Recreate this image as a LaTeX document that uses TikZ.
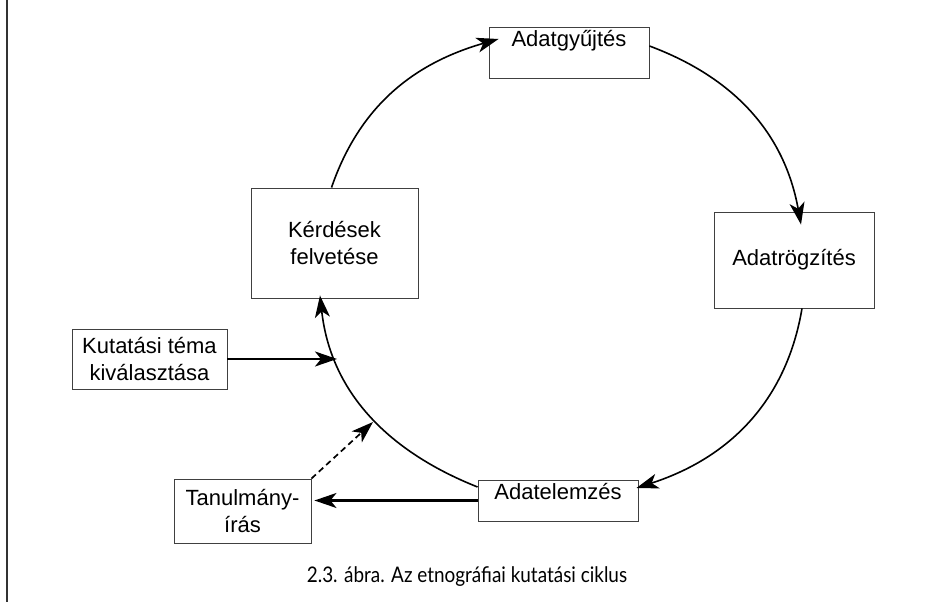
\documentclass[tikz,border=0pt]{standalone}
\usepackage{fontspec}
\setmainfont{Liberation Sans}
\newfontfamily\capfont[FakeStretch=0.88]{Lato}
\usetikzlibrary{arrows.meta}
\begin{document}
\begin{tikzpicture}[x=1pt,y=1pt,
  box/.style={draw=black!75, line width=0.9pt, inner sep=0pt, align=center,
    font=\fontsize{22}{27}\selectfont},
  tip/.style={-{Stealth[length=22pt,width=15pt,inset=6pt]}},
  cyc/.style={tip, line width=1.6pt},
  straightarrow/.style={tip, line width=2.2pt},
  dasharrow/.style={tip, line width=1.7pt, dash pattern=on 6pt off 4pt}]
\useasboundingbox (0,0) rectangle (935,602);
\draw[line width=1.5pt, black!80] (7,0) -- (7,602);

\node[box, minimum width=160pt, text height=20pt, text depth=31pt] (gy) at (569,549.5) {Adatgyűjtés};
\node[box, minimum width=167pt, minimum height=110pt] (kf) at (334.5,359) {Kérdések\\felvetése};
\node[box, minimum width=160pt, minimum height=96pt] (ar) at (794,342) {Adatrögzítés};
\node[box, minimum width=155pt, minimum height=60pt] (ku) at (149.5,243) {Kutatási téma\\kiválasztása};
\node[box, minimum width=137pt, minimum height=64pt] (ta) at (242.5,91) {Tanulmány-\\írás};
\node[box, minimum width=160pt, text height=20pt, text depth=21pt] (el) at (558,101.5) {Adatelemzés};

\node (cap) at (467,25) {\capfont\fontsize{21.5}{24}\selectfont 2.3. ábra. Az etnográfiai kutatási ciklus};

\coordinate (p1) at (337,243);
\coordinate (p2) at (373,180);

\draw[cyc] ([xshift=-3pt]kf.north) to[out=71,in=196] ([shift={(10,13.5)}]gy.west);
\draw[cyc] ([yshift=6.5pt]gy.east) to[out=-20.5,in=100.3] ([shift={(7,-13)}]ar.north);
\draw[cyc] ([xshift=8pt]ar.south) to[out=-99.6,in=17.9] ([shift={(-2,12.5)}]el.east);
\draw[cyc] ([yshift=13.5pt]el.west) to[out=158.3,in=276.3] ([shift={(-14.5,3)}]kf.south);

\draw[straightarrow] (ku.east) -- (p1);
\draw[straightarrow, shorten >=3pt] (el.west) -- (el.west -| ta.east);
\draw[dasharrow] (ta.north east) -- (p2);
\end{tikzpicture}
\end{document}
